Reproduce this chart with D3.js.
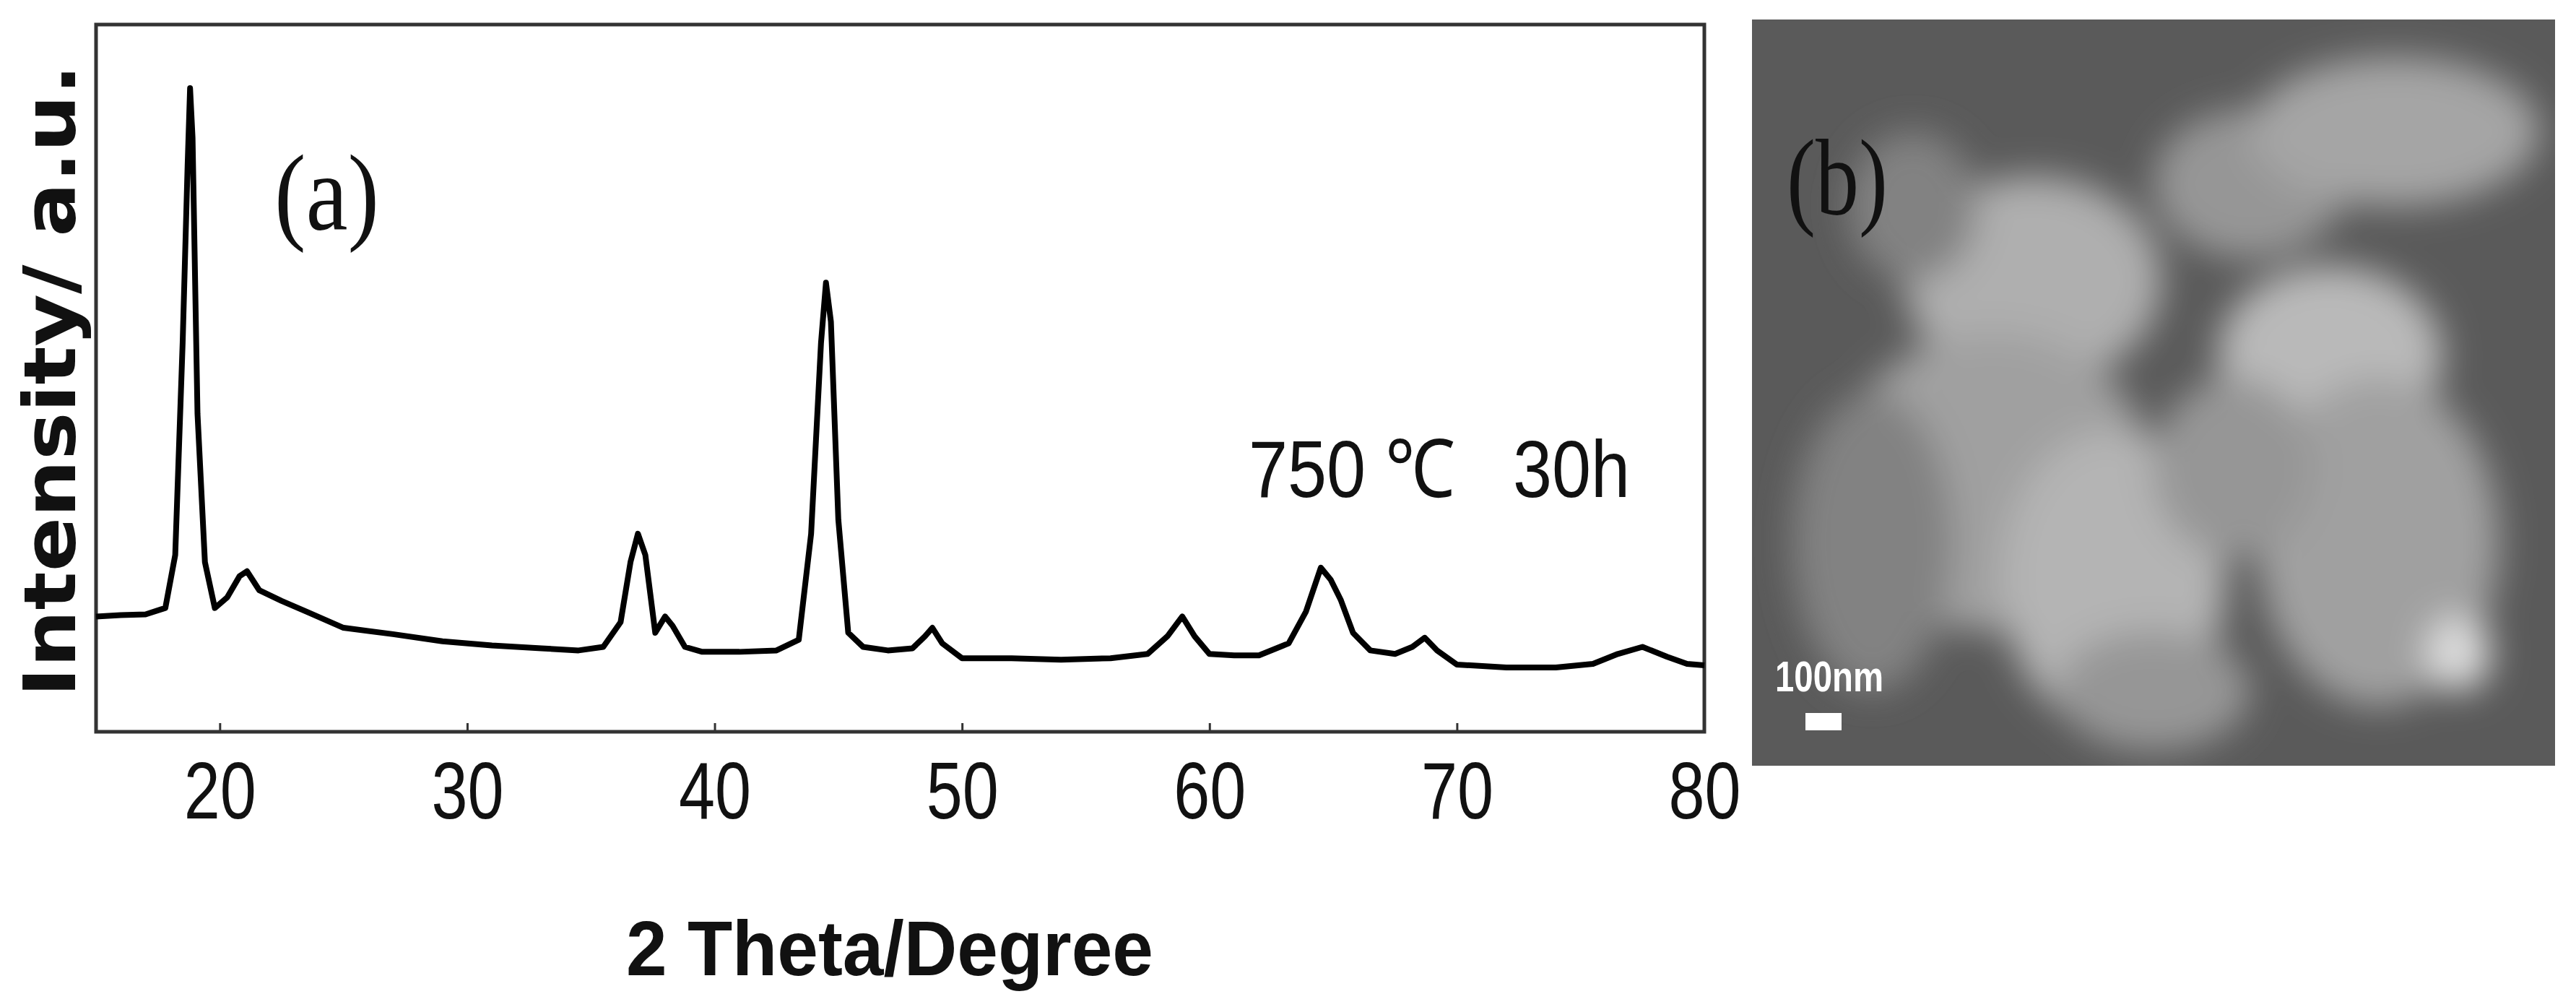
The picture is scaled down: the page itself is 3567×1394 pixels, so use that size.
<!DOCTYPE html>
<html><head><meta charset="utf-8">
<script src="https://cdn.jsdelivr.net/npm/d3@7"></script>
<style>body{margin:0;background:#fff}</style>
</head><body>
<div id="chart"></div>
<script>
// XRD pattern (2θ, intensity a.u.)
const twoTheta = [15,16,17,17.8,18.2,18.5,18.7,18.8,18.9,19.1,19.4,19.8,20.3,20.8,21.1,21.6,22.5,23.5,25,27,29,31,33,34.5,35.5,36.2,36.6,36.9,37.2,37.6,38.0,38.3,38.8,39.5,41,42.5,43.4,43.9,44.3,44.5,44.7,45.0,45.4,46,47,48,48.5,48.8,49.2,50,52,54,56,57.5,58.3,58.9,59.4,60,61,62,63.2,63.9,64.5,64.9,65.3,65.8,66.5,67.5,68.2,68.7,69.2,70,72,74,75.5,76.5,77.5,78.5,79.3,80];
const intensity = [16.3,16.5,16.6,17.5,25,55,80,91,84,45,24,17.5,19,22,22.7,20,18.5,17,14.7,13.8,12.8,12.2,11.8,11.5,12,15.5,24,28,25,14,16.3,15,12,11.3,11.3,11.5,13,28,55,63.5,58,30,14,12,11.5,11.8,13.5,14.7,12.5,10.4,10.4,10.2,10.4,11,13.5,16.3,13.5,11,10.8,10.8,12.5,17,23.2,21.5,18.7,14,11.5,11,12,13.3,11.5,9.5,9.1,9.1,9.6,11,12,10.6,9.6,9.4];
const xTicks = [20,30,40,50,60,70,80];
// rough particle blobs for the SEM panel: [cx, cy, rx, ry, grey]
const blobs = [[0.35,0.35,0.16,0.14,175],[0.62,0.22,0.12,0.10,150],[0.8,0.15,0.18,0.1,165],[0.3,0.62,0.2,0.2,160],[0.45,0.75,0.14,0.2,180],[0.72,0.45,0.14,0.12,185],[0.78,0.7,0.15,0.22,160],[0.6,0.6,0.1,0.12,150],[0.15,0.7,0.1,0.2,130],[0.88,0.85,0.04,0.05,220],[0.5,0.9,0.12,0.08,150],[0.2,0.25,0.08,0.1,130]];

const W = 3567, H = 1394;
const m = {left: 133, right: 3567 - 2360, top: 34, bottom: H - 1013};
const svg = d3.select('#chart').append('svg').attr('width', W).attr('height', H);

const x = d3.scaleLinear().domain([15, 80]).range([m.left, W - m.right]);
const y = d3.scaleLinear().domain([0, 100]).range([H - m.bottom, m.top]);

// frame
svg.append('rect')
    .attr('x', x(15)).attr('y', y(100))
    .attr('width', x(80) - x(15)).attr('height', y(0) - y(100))
    .attr('fill', 'none').attr('stroke', '#333').attr('stroke-width', 5);

svg.append('g')
    .attr('transform', `translate(0,${y(0)})`)
    .call(d3.axisBottom(x).tickValues(xTicks).tickSize(-12).tickPadding(40).tickSizeOuter(0))
    .call(g => g.select('.domain').remove())
    .call(g => g.selectAll('line').attr('stroke', '#333').attr('stroke-width', 3))
    .call(g => g.selectAll('text').attr('font-family', '"Liberation Sans", Arial')
        .attr('font-size', 112).attr('fill', '#111').attr('dy', '0.71em')
        .attr('textLength', 100).attr('lengthAdjust', 'spacingAndGlyphs'));

const line = d3.line().x((d, i) => x(twoTheta[i])).y(d => y(d));
svg.append('path').datum(intensity)
    .attr('fill', 'none').attr('stroke', '#000').attr('stroke-width', 8)
    .attr('stroke-linejoin', 'round').attr('d', line);

svg.append('text')
    .attr('x', 1232).attr('y', 1350).attr('text-anchor', 'middle')
    .attr('font-family', '"Liberation Sans", Arial').attr('font-weight', 'bold')
    .attr('font-size', 108).attr('fill', '#111')
    .attr('textLength', 730).attr('lengthAdjust', 'spacingAndGlyphs').text('2 Theta/Degree');

svg.append('text')
    .attr('transform', 'rotate(-90)').attr('x', -527).attr('y', 104)
    .attr('text-anchor', 'middle')
    .attr('font-family', '"DejaVu Sans", Arial').attr('font-weight', 'bold')
    .attr('font-size', 100).attr('fill', '#111')
    .attr('textLength', 876).attr('lengthAdjust', 'spacingAndGlyphs').text('Intensity/ a.u.');

svg.append('text')
    .attr('x', 380).attr('y', 318)
    .attr('font-family', '"Liberation Serif", serif').attr('font-size', 150).attr('fill', '#111')
    .attr('textLength', 145).attr('lengthAdjust', 'spacingAndGlyphs').text('(a)');

svg.append('text')
    .attr('x', 1729).attr('y', 688)
    .attr('font-family', '"Liberation Sans", Arial')
    .attr('font-size', 112).attr('fill', '#111').attr('xml:space', 'preserve')
    .attr('textLength', 528).attr('lengthAdjust', 'spacingAndGlyphs')
    .text('750 ℃   30h');

// panel (b): SEM micrograph placeholder
const bx = 2426, by = 27, bw = 3538 - 2426, bh = 1060 - 27;
const defs = svg.append('defs');
defs.append('filter').attr('id', 'blur').append('feGaussianBlur').attr('stdDeviation', 25);
defs.append('clipPath').attr('id', 'clipb').append('rect')
    .attr('x', bx).attr('y', by).attr('width', bw).attr('height', bh);
const pb = svg.append('g').attr('clip-path', 'url(#clipb)');
pb.append('rect').attr('x', bx).attr('y', by).attr('width', bw).attr('height', bh).attr('fill', '#5a5a5a');
pb.append('g').attr('filter', 'url(#blur)')
    .selectAll('ellipse').data(blobs).join('ellipse')
    .attr('cx', d => bx + d[0] * bw).attr('cy', d => by + d[1] * bh)
    .attr('rx', d => d[2] * bw).attr('ry', d => d[3] * bh)
    .attr('fill', d => d3.rgb(d[4], d[4], d[4]));
pb.append('text')
    .attr('x', bx + 48).attr('y', by + 270)
    .attr('font-family', '"Liberation Serif", serif').attr('font-size', 150).attr('fill', '#111')
    .attr('textLength', 140).attr('lengthAdjust', 'spacingAndGlyphs').text('(b)');
pb.append('text')
    .attr('x', bx + 32).attr('y', by + 930)
    .attr('font-family', '"Liberation Sans", Arial').attr('font-weight', 'bold')
    .attr('font-size', 60).attr('fill', '#fff')
    .attr('textLength', 150).attr('lengthAdjust', 'spacingAndGlyphs').text('100nm');
pb.append('rect').attr('x', bx + 74).attr('y', by + 960).attr('width', 50).attr('height', 24).attr('fill', '#fff');
</script>
</body></html>
